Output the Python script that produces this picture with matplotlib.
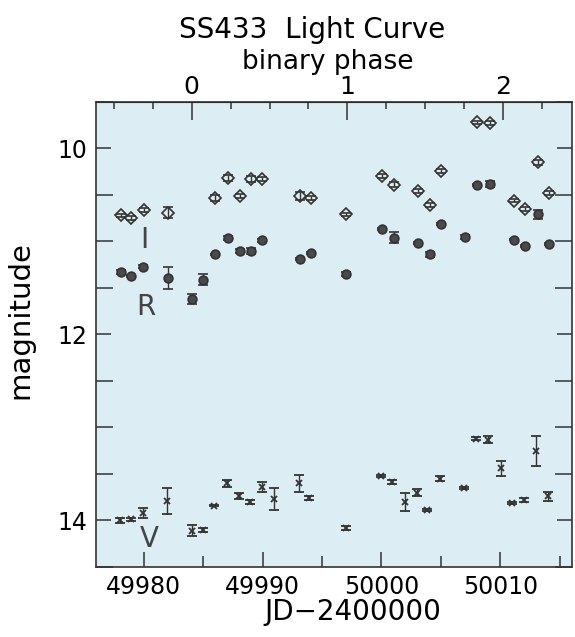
# SS433 light curve (I, R, V) vs JD with binary phase on top
import numpy as np
import matplotlib
matplotlib.use('Agg')
import matplotlib.pyplot as plt
from matplotlib.ticker import MultipleLocator, FixedLocator

# Data
I_jd = [49978.08, 49978.94, 49980.01, 49982.03, 49986.01, 49987.10, 49988.11, 49989.01,
        49989.99, 49993.13, 49994.06, 49997.03, 50000.05, 50001.06, 50003.05, 50004.06,
        50005.04, 50008.07, 50009.11, 50011.13, 50012.11, 50013.15, 50014.12]
I_mag = [10.72, 10.75, 10.66, 10.69, 10.53, 10.32, 10.51, 10.33, 10.33, 10.51, 10.53, 10.71,
         10.30, 10.39, 10.46, 10.61, 10.24, 9.72, 9.73, 10.56, 10.65, 10.15, 10.48]
I_err = [0.02, 0.02, 0.02, 0.06, 0.03, 0.03, 0.02, 0.03, 0.02, 0.04, 0.02, 0.02,
         0.02, 0.03, 0.02, 0.02, 0.02, 0.02, 0.02, 0.02, 0.02, 0.03, 0.02]

R_jd = [49978.10, 49978.94, 49979.98, 49982.03, 49984.10, 49985.03, 49985.98, 49987.10,
        49988.11, 49989.01, 49989.99, 49993.13, 49994.06, 49997.03, 50000.05, 50001.06,
        50003.05, 50004.06, 50005.04, 50007.06, 50008.07, 50009.11, 50011.13, 50012.11,
        50013.15, 50014.12]
R_mag = [11.33, 11.37, 11.27, 11.39, 11.62, 11.41, 11.14, 10.96, 11.10, 11.10, 10.99, 11.19,
         11.12, 11.35, 10.87, 10.96, 11.02, 11.14, 10.81, 10.95, 10.39, 10.38, 10.98, 11.05,
         10.71, 11.03]
R_err = [0.02, 0.01, 0.02, 0.12, 0.05, 0.06, 0.01, 0.02, 0.02, 0.03, 0.02, 0.01, 0.01,
         0.02, 0.01, 0.06, 0.01, 0.03, 0.01, 0.02, 0.01, 0.03, 0.01, 0.01, 0.05, 0.01]

V_jd = [49978.02, 49978.92, 49979.93, 49981.95, 49984.10, 49984.97, 49985.95, 49987.02,
        49988.03, 49988.95, 49989.93, 49990.94, 49993.05, 49993.94, 49997.00, 49999.94,
        50000.92, 50002.01, 50002.97, 50003.86, 50004.93, 50006.92, 50007.93, 50008.97,
        50010.04, 50010.96, 50011.97, 50013.03, 50013.99]
V_mag = [14.00, 13.99, 13.92, 13.79, 14.11, 14.10, 13.84, 13.60, 13.74, 13.80, 13.64, 13.77,
         13.60, 13.76, 14.08, 13.52, 13.59, 13.80, 13.70, 13.89, 13.55, 13.65, 13.12, 13.13,
         13.44, 13.81, 13.78, 13.25, 13.74]
V_err = [0.03, 0.02, 0.05, 0.14, 0.06, 0.02, 0.01, 0.04, 0.03, 0.02, 0.05, 0.12, 0.09,
         0.02, 0.02, 0.01, 0.02, 0.10, 0.04, 0.01, 0.03, 0.01, 0.02, 0.04, 0.08, 0.01,
         0.02, 0.16, 0.05]

phase_ticks = [0, 1, 2]

# Ephemeris for the top axis
phase0 = 49984.05
period = 13.08

ink = '#333333'
plt.rcParams['font.family'] = 'DejaVu Sans'

fig = plt.figure(figsize=(5.75, 6.37), dpi=100)
ax = fig.add_axes([0.167, 0.11, 0.8273, 0.73])
ax.set_facecolor('#ddedf4')

ax.errorbar(I_jd, I_mag, yerr=I_err, fmt='D', ms=6.5, mfc='none', mec=ink, mew=1.2,
            ecolor=ink, elinewidth=1, capsize=3.5)
ax.errorbar(R_jd, R_mag, yerr=R_err, fmt='o', ms=6.3, mfc='#4a4a4a', mec=ink, mew=1.2,
            ecolor=ink, elinewidth=1, capsize=3.5)
ax.errorbar(V_jd, V_mag, yerr=V_err, fmt='x', ms=4.5, mec=ink, mew=1.3,
            ecolor=ink, elinewidth=1, capsize=3.5)

ax.text(49980.05, 10.99, 'I', fontsize=20, color='#444444', ha='center', va='center')
ax.text(49980.15, 11.71, 'R', fontsize=20, color='#444444', ha='center', va='center')
ax.text(49980.5, 14.2, 'V', fontsize=20, color='#444444', ha='center', va='center')

ax.set_xlim(49976, 50016)
ax.set_ylim(14.5, 9.5)
ax.xaxis.set_major_locator(MultipleLocator(10))
ax.xaxis.set_minor_locator(MultipleLocator(5))
ax.yaxis.set_major_locator(MultipleLocator(2))
ax.yaxis.set_minor_locator(MultipleLocator(0.5))
ax.tick_params(which='both', direction='in', labelsize=17, pad=6, color=ink, right=True)
ax.tick_params(which='major', length=11, width=1.1)
ax.tick_params(which='minor', length=6, width=1.1)
ax.tick_params(axis='y', which='minor', right=True, length=12)
ax.tick_params(axis='x', which='minor', length=8)
for s in ax.spines.values():
    s.set_color(ink)
    s.set_linewidth(1.2)

ax.set_xlabel('JD\u22122400000', fontsize=20, va='center')
ax.xaxis.set_label_coords(0.54, -0.097)
ax.set_ylabel('magnitude', fontsize=21, va='center')
ax.yaxis.set_label_coords(-0.16, 0.531)

top = ax.secondary_xaxis('top', functions=(lambda x: (x - phase0) / period,
                                            lambda p: p * period + phase0))
top.xaxis.set_major_locator(FixedLocator(phase_ticks))
top.xaxis.set_minor_locator(MultipleLocator(0.25))
top.tick_params(which='both', direction='in', labelsize=18, pad=2, color=ink)
top.tick_params(which='major', length=13, width=1.1)
top.tick_params(which='minor', length=5, width=1.1)

fig.text(0.570, 0.903, 'binary phase', fontsize=19, ha='center', va='center')
fig.text(0.543, 0.953, 'SS433  Light Curve', fontsize=20, ha='center', va='center')

fig.savefig('out.png', dpi=100)
